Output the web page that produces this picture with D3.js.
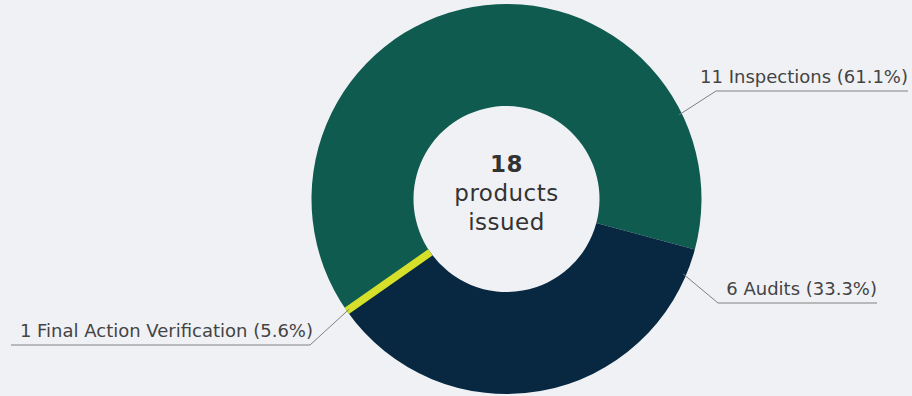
<!DOCTYPE html>
<html>
<head>
<meta charset="utf-8">
<script src="https://cdn.jsdelivr.net/npm/d3@7"></script>
<style>
  html, body { margin: 0; padding: 0; background: #f0f1f5; }
  svg { display: block; }
  text { font-family: "DejaVu Sans", "Open Sans", sans-serif; }
</style>
</head>
<body>
<svg id="chart" width="912" height="396"></svg>
<script>
// data
var categories = ['Inspections', 'Audits', 'Final Action Verification'];
var counts = [11, 6, 1];
var colors = ['#105b50', '#072840', '#d6e02b'];
var centerLines = ['18', 'products', 'issued'];

// label placement (layout only)
var labelLayout = [
    {side: 1, lineY: 91, anchorDeg: 64, elbowX: 716, endX: 908},
    {side: 1, lineY: 303, anchorDeg: 113, elbowX: 718, endX: 877},
    {side: -1, lineY: 345, anchorDeg: 235, elbowX: 310, endX: 11}
];

var svg = d3.select('#chart');
var cx = 506.5, cy = 199, outerR = 195, innerR = 93;
var total = d3.sum(counts);

var pie = d3.pie()
        .sort(null)
        .startAngle(-115 * Math.PI / 180)
        .endAngle(245 * Math.PI / 180);

var arcs = pie(counts);
var arc = d3.arc().innerRadius(innerR).outerRadius(outerR);

var g = svg.append('g').attr('transform', 'translate(' + cx + ',' + cy + ')');

// the small slice is drawn as a narrow band on its mid angle,
// the two big slices meet it there
var smallMid = (arcs[2].startAngle + arcs[2].endAngle) / 2;
var shown = arcs.slice(0, 2).map(function(d, i) {
    var o = Object.assign({}, d);
    if (i === 0) o.startAngle = smallMid - 2 * Math.PI;
    if (i === 1) o.endAngle = smallMid;
    return o;
});

g.selectAll('.slice').data(shown).enter()
        .append('path')
        .attr('class', 'slice')
        .attr('d', arc)
        .attr('fill', function(d, i) { return colors[i]; });

g.append('line')
        .attr('class', 'slice-band')
        .attr('x1', Math.sin(smallMid) * innerR)
        .attr('y1', -Math.cos(smallMid) * innerR)
        .attr('x2', Math.sin(smallMid) * outerR)
        .attr('y2', -Math.cos(smallMid) * outerR)
        .attr('stroke', colors[2])
        .attr('stroke-width', 7.5);

// connectors
g.selectAll('.connector').data(labelLayout).enter()
        .append('polyline')
        .attr('class', 'connector')
        .attr('fill', 'none')
        .attr('stroke', '#808080')
        .attr('stroke-width', 1)
        .attr('points', function(d) {
            var a = d.anchorDeg * Math.PI / 180;
            var sx = Math.sin(a) * (outerR - 3), sy = -Math.cos(a) * (outerR - 3);
            return [[sx, sy], [d.elbowX - cx, d.lineY - cy], [d.endX - cx, d.lineY - cy]].join(' ');
        });

g.selectAll('.slice-label').data(labelLayout).enter()
        .append('text')
        .attr('class', 'slice-label')
        .attr('font-size', '18px')
        .attr('fill', '#444')
        .attr('text-anchor', 'end')
        .attr('x', function(d) { return d.side > 0 ? d.endX - cx : d.elbowX - cx + 3; })
        .attr('y', function(d) { return d.lineY - cy - 8; })
        .text(function(d, i) {
            return counts[i] + ' ' + categories[i] + ' (' + (counts[i] / total * 100).toFixed(1) + '%)';
        });

// center text
g.selectAll('.center-text').data(centerLines).enter()
        .append('text')
        .attr('class', 'center-text')
        .attr('text-anchor', 'middle')
        .attr('font-size', '23px')
        .attr('letter-spacing', '0.5px')
        .attr('font-weight', function(d, i) { return i === 0 ? 700 : 400; })
        .attr('fill', '#333')
        .attr('x', 0)
        .attr('y', function(d, i) { return -27 + i * 29; })
        .text(function(d) { return d; });
</script>
</body>
</html>
